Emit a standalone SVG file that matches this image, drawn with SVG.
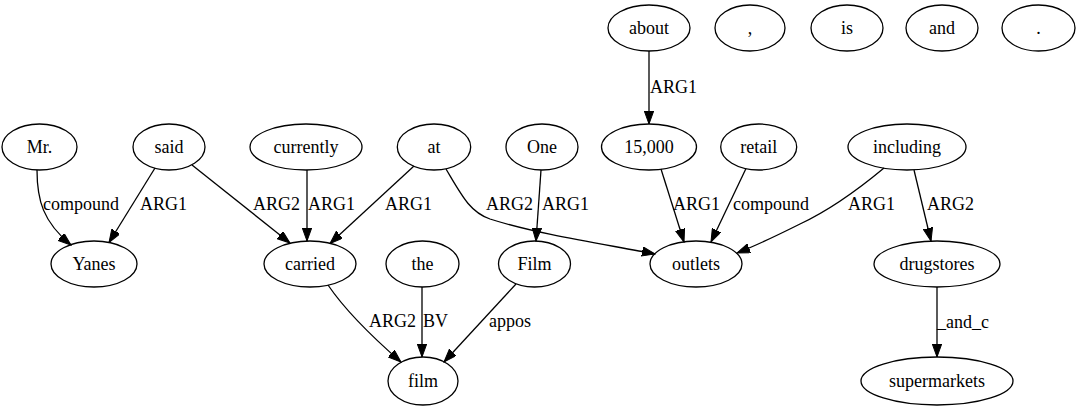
<svg xmlns="http://www.w3.org/2000/svg" width="1080" height="411" viewBox="0 0 1080 411" font-family="Liberation Serif, Times New Roman, serif">
<style>
.n ellipse{fill:none;stroke:#000;stroke-width:1.3}
.n text{font-family:'Liberation Serif','DejaVu Serif',serif;font-size:18px;text-anchor:middle;fill:#000}
.e path{fill:none;stroke:#000;stroke-width:1.3;marker-end:url(#ah)}
.e text{font-family:'Liberation Serif','DejaVu Serif',serif;font-size:18px;fill:#000}
</style>
<defs>
<marker id="ah" markerUnits="userSpaceOnUse" markerWidth="14" markerHeight="10" refX="13" refY="4.7" orient="auto">
<path d="M0,0 L13,4.7 L0,9.4 z" fill="#000" stroke="#000" stroke-width="1"/>
</marker>
</defs>
<rect width="1080" height="411" fill="#fff"/>
<g id="edges" class="e">
<path d="M37,170 C37,200 43,222 71,245"/>
<text x="43" y="210">compound</text>
<path d="M155,168 L109,242.5"/>
<text x="140" y="210">ARG1</text>
<path d="M192,165 L290,243"/>
<text x="253" y="210">ARG2</text>
<path d="M307,170 L307,241"/>
<text x="308" y="210">ARG1</text>
<path d="M414,166 L330,243.5"/>
<text x="385" y="210">ARG1</text>
<path d="M446,169 C462,196 470,212 490,219 C540,235 610,245 655,254"/>
<text x="486" y="210">ARG2</text>
<path d="M541,170 L536,241"/>
<text x="542" y="210">ARG1</text>
<path d="M649,51 L649,124"/>
<text x="650" y="93">ARG1</text>
<path d="M661,169 L684,242"/>
<text x="673" y="210">ARG1</text>
<path d="M746,168.5 L711,242"/>
<text x="733" y="210">compound</text>
<path d="M884,168 C860,188 830,210 800,224 C780,234 760,244 737,253"/>
<text x="848" y="210">ARG1</text>
<path d="M914,170 L931,241"/>
<text x="927" y="210">ARG2</text>
<path d="M937,287 L937,357"/>
<text x="937" y="328">_and_c</text>
<path d="M328,285 C345,310 370,335 401,362"/>
<text x="369" y="327">ARG2</text>
<path d="M422,287 L422,357"/>
<text x="423" y="327">BV</text>
<path d="M516,284 L444,362"/>
<text x="489" y="327">appos</text>
</g>
<g id="n_about" class="n"><ellipse cx="649" cy="28" rx="41" ry="23"/><text x="649" y="34">about</text></g>
<g id="n_comma" class="n"><ellipse cx="750" cy="28" rx="35" ry="23"/><text x="750" y="34">,</text></g>
<g id="n_is" class="n"><ellipse cx="847" cy="28" rx="36" ry="23"/><text x="847" y="34">is</text></g>
<g id="n_and" class="n"><ellipse cx="942" cy="28" rx="36" ry="23"/><text x="942" y="34">and</text></g>
<g id="n_period" class="n"><ellipse cx="1038.5" cy="28" rx="36.5" ry="23"/><text x="1038.5" y="34">.</text></g>
<g id="n_mr" class="n"><ellipse cx="39.5" cy="147" rx="37.5" ry="23"/><text x="39.5" y="153">Mr.</text></g>
<g id="n_said" class="n"><ellipse cx="169" cy="147" rx="36" ry="23"/><text x="169" y="153">said</text></g>
<g id="n_currently" class="n"><ellipse cx="306" cy="147" rx="56" ry="23"/><text x="306" y="153">currently</text></g>
<g id="n_at" class="n"><ellipse cx="434" cy="147" rx="36.7" ry="23"/><text x="434" y="153">at</text></g>
<g id="n_one" class="n"><ellipse cx="542" cy="147" rx="36" ry="23"/><text x="542" y="153">One</text></g>
<g id="n_15000" class="n"><ellipse cx="649" cy="147" rx="47.5" ry="23"/><text x="649" y="153">15,000</text></g>
<g id="n_retail" class="n"><ellipse cx="758.7" cy="147" rx="38" ry="23"/><text x="758.7" y="153">retail</text></g>
<g id="n_including" class="n"><ellipse cx="907" cy="147" rx="59" ry="23"/><text x="907" y="153">including</text></g>
<g id="n_yanes" class="n"><ellipse cx="94" cy="264" rx="43" ry="23"/><text x="94" y="270">Yanes</text></g>
<g id="n_carried" class="n"><ellipse cx="310" cy="264" rx="46" ry="23"/><text x="310" y="270">carried</text></g>
<g id="n_the" class="n"><ellipse cx="422.5" cy="264" rx="36.5" ry="23"/><text x="422.5" y="270">the</text></g>
<g id="n_Film" class="n"><ellipse cx="534.5" cy="264" rx="36" ry="23"/><text x="534.5" y="270">Film</text></g>
<g id="n_outlets" class="n"><ellipse cx="696" cy="264" rx="46" ry="23"/><text x="696" y="270">outlets</text></g>
<g id="n_drugstores" class="n"><ellipse cx="937" cy="264" rx="63" ry="23"/><text x="937" y="270">drugstores</text></g>
<g id="n_film" class="n"><ellipse cx="423" cy="381" rx="35" ry="24"/><text x="423" y="387">film</text></g>
<g id="n_supermarkets" class="n"><ellipse cx="937" cy="381" rx="76" ry="24"/><text x="937" y="387">supermarkets</text></g>
</svg>
